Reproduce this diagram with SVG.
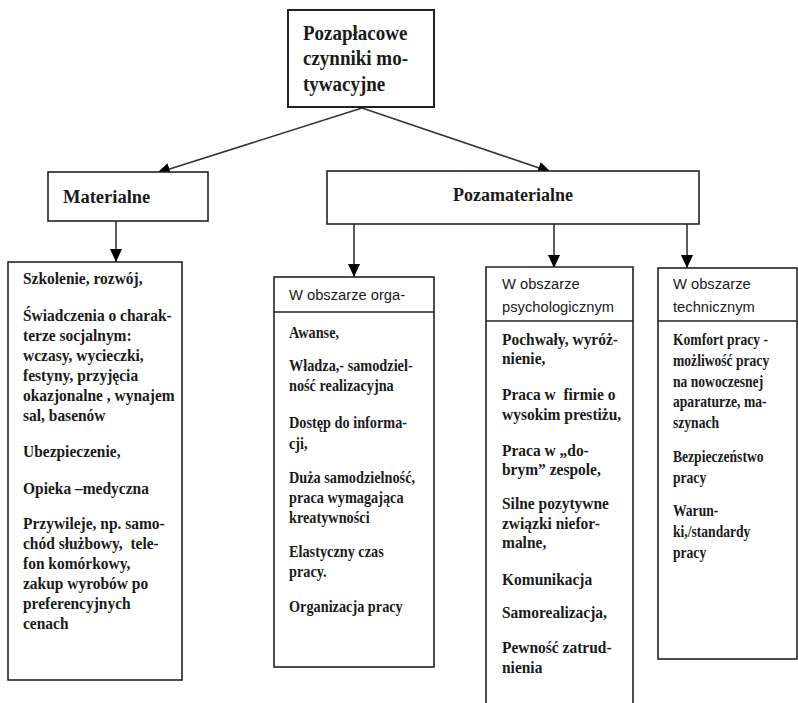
<svg xmlns="http://www.w3.org/2000/svg" width="798" height="703" viewBox="0 0 798 703">
<style>
.box{fill:#fff;stroke:#222;stroke-width:1.6}
.sep{stroke:#222;stroke-width:1.6}
.body{font-family:"Liberation Serif","Times New Roman",serif;font-weight:bold;font-size:17px;fill:#1a1a1a}
.head{font-family:"Liberation Sans",Arial,sans-serif;font-size:15.5px;fill:#1a1a1a}
.title{font-family:"Liberation Serif","Times New Roman",serif;font-weight:bold;fill:#1a1a1a}
.conn{stroke:#333;stroke-width:1.6;fill:none;marker-end:url(#ah)}
</style>
<defs>
<marker id="ah" markerUnits="userSpaceOnUse" markerWidth="14" markerHeight="12" refX="13" refY="6" orient="auto">
<path d="M0,0 L13,6 L0,12 Z" fill="#000"/>
</marker>
</defs>
<rect width="798" height="703" fill="#fff"/>

<g id="connectors">
<line class="conn" x1="362" y1="108" x2="157" y2="173"/>
<line class="conn" x1="362" y1="108" x2="551" y2="172"/>
<line class="conn" x1="116" y1="221" x2="116" y2="262"/>
<line class="conn" x1="354" y1="224" x2="354" y2="277"/>
<line class="conn" x1="554" y1="224" x2="554" y2="268"/>
<line class="conn" x1="687" y1="224" x2="687" y2="268"/>
</g>

<g id="root">
<rect class="box" x="288" y="10" width="146" height="97" style="stroke-width:2"/>
<g transform="translate(303,0) scale(0.95,1)">
<text class="title" style="font-size:20px" x="0" y="40">Pozapłacowe</text>
<text class="title" style="font-size:20px" x="0" y="65">czynniki mo-</text>
<text class="title" style="font-size:20px" x="0" y="91">tywacyjne</text>
</g>
</g>

<g id="materialne">
<rect class="box" x="48" y="172" width="160" height="49"/>
<text class="title" style="font-size:18.5px" x="63" y="203">Materialne</text>
</g>

<g id="pozamaterialne">
<rect class="box" x="327" y="171" width="372" height="53"/>
<text class="title" style="font-size:18px" x="453" y="201">Pozamaterialne</text>
</g>

<g id="materialne-list">
<rect class="box" x="8" y="262" width="174" height="418"/>
<g transform="translate(23,0) scale(0.91,1)">
<text class="body" x="0" y="284">Szkolenie, rozwój,</text>
<text class="body" x="0" y="321">Świadczenia o charak-</text>
<text class="body" x="0" y="341">terze socjalnym:</text>
<text class="body" x="0" y="361">wczasy, wycieczki,</text>
<text class="body" x="0" y="381">festyny, przyjęcia</text>
<text class="body" x="0" y="401">okazjonalne , wynajem</text>
<text class="body" x="0" y="421">sal, basenów</text>
<text class="body" x="0" y="457">Ubezpieczenie,</text>
<text class="body" x="0" y="494">Opieka –medyczna</text>
<text class="body" x="0" y="529">Przywileje, np. samo-</text>
<text class="body" x="0" y="549" xml:space="preserve">chód służbowy,  tele-</text>
<text class="body" x="0" y="569">fon komórkowy,</text>
<text class="body" x="0" y="589">zakup wyrobów po</text>
<text class="body" x="0" y="609">preferencyjnych</text>
<text class="body" x="0" y="629">cenach</text>
</g>
</g>

<g id="organizacyjny">
<rect class="box" x="274" y="277" width="160" height="390"/>
<line class="sep" x1="274" y1="312" x2="434" y2="312"/>
<g transform="translate(289,0) scale(0.95,1)">
<text class="head" x="0" y="300">W obszarze orga-</text>
</g>
<g transform="translate(289,0) scale(0.84,1)">
<text class="body" x="0" y="338">Awanse,</text>
<text class="body" x="0" y="371">Władza,- samodziel-</text>
<text class="body" x="0" y="391">ność realizacyjna</text>
<text class="body" x="0" y="428">Dostęp do informa-</text>
<text class="body" x="0" y="449">cji,</text>
<text class="body" x="0" y="483">Duża samodzielność,</text>
<text class="body" x="0" y="503">praca wymagająca</text>
<text class="body" x="0" y="523">kreatywności</text>
<text class="body" x="0" y="557">Elastyczny czas</text>
<text class="body" x="0" y="577">pracy.</text>
<text class="body" x="0" y="612">Organizacja pracy</text>
</g>
</g>

<g id="psychologiczny">
<path class="box" d="M486,705 L486,267 L633,267 L633,705"/>
<line class="sep" x1="486" y1="321" x2="633" y2="321"/>
<g transform="translate(502,0) scale(0.95,1)">
<text class="head" x="0" y="289">W obszarze</text>
<text class="head" x="0" y="312">psychologicznym</text>
</g>
<g transform="translate(502,0) scale(0.91,1)">
<text class="body" x="0" y="345">Pochwały, wyróż-</text>
<text class="body" x="0" y="364">nienie,</text>
<text class="body" x="0" y="400" xml:space="preserve">Praca w  firmie o</text>
<text class="body" x="0" y="420">wysokim prestiżu,</text>
<text class="body" x="0" y="456">Praca w „do-</text>
<text class="body" x="0" y="475">brym” zespole,</text>
<text class="body" x="0" y="509">Silne pozytywne</text>
<text class="body" x="0" y="529">związki niefor-</text>
<text class="body" x="0" y="548">malne,</text>
<text class="body" x="0" y="585">Komunikacja</text>
<text class="body" x="0" y="618">Samorealizacja,</text>
<text class="body" x="0" y="653">Pewność zatrud-</text>
<text class="body" x="0" y="673">nienia</text>
</g>
</g>

<g id="techniczny">
<rect class="box" x="658" y="268" width="139" height="391"/>
<line class="sep" x1="658" y1="321" x2="797" y2="321"/>
<g transform="translate(673,0) scale(0.95,1)">
<text class="head" x="0" y="289">W obszarze</text>
<text class="head" x="0" y="312">technicznym</text>
</g>
<g transform="translate(673,0) scale(0.8,1)">
<text class="body" x="0" y="345">Komfort pracy -</text>
<text class="body" x="0" y="366">możliwość pracy</text>
<text class="body" x="0" y="387">na nowoczesnej</text>
<text class="body" x="0" y="407">aparaturze, ma-</text>
<text class="body" x="0" y="428">szynach</text>
<text class="body" x="0" y="462">Bezpieczeństwo</text>
<text class="body" x="0" y="483">pracy</text>
<text class="body" x="0" y="516">Warun-</text>
<text class="body" x="0" y="537">ki,/standardy</text>
<text class="body" x="0" y="558">pracy</text>
</g>
</g>
</svg>
